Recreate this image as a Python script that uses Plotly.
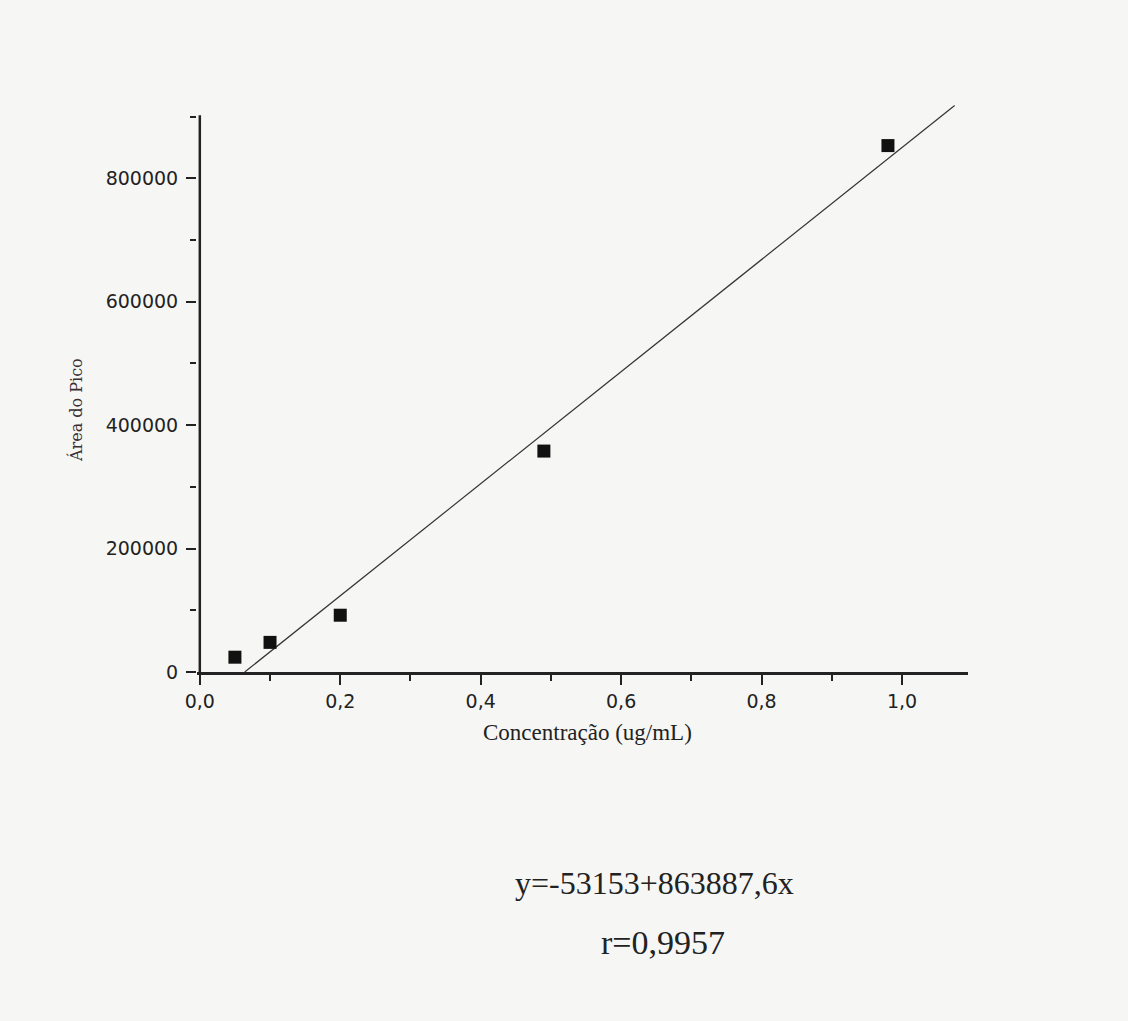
import plotly.graph_objects as go

# Data
conc = [0.05, 0.1, 0.2, 0.49, 0.98]
area = [24000, 48000, 92000, 358000, 853000]
fit_line_x = [0.064, 1.075]
fit_line_y = [0, 918000]
x_ticks = [0.0, 0.2, 0.4, 0.6, 0.8, 1.0]
x_tick_text = ["0,0", "0,2", "0,4", "0,6", "0,8", "1,0"]
y_ticks = [0, 200000, 400000, 600000, 800000]
y_tick_text = ["0", "200000", "400000", "600000", "800000"]
y_axis_top = 902000
y_view_top = 922000
x_view_left = -0.004
x_view_right = 1.094

BG = "#f6f6f4"
INK = "#222222"
SERIF = "Liberation Serif, Times New Roman, serif"

fig = go.Figure()
fig.add_trace(go.Scatter(x=fit_line_x, y=fit_line_y, mode="lines",
                         line=dict(color="#333333", width=1.2), showlegend=False,
                         cliponaxis=False))
fig.add_trace(go.Scatter(x=conc, y=area, mode="markers",
                         marker=dict(symbol="square", size=13, color="#111111"),
                         showlegend=False, cliponaxis=False))

# geometry: x=0 at 192 px, 702 px per unit; y=0 at 664 px, 557 px for 902000
px_per_x = 768 / 1.094
left_margin = 192 + x_view_left * px_per_x
plot_h = 557 * y_view_top / y_axis_top
top_margin = 664 - plot_h

fig.update_layout(
    width=1112, height=1005,
    paper_bgcolor=BG, plot_bgcolor=BG,
    margin=dict(l=left_margin, r=152, t=top_margin, b=341),
    font=dict(family="DejaVu Sans, Arial", color=INK),
    xaxis=dict(range=[x_view_left, x_view_right], tickvals=x_ticks, ticktext=x_tick_text,
               showgrid=False, zeroline=False, showline=True, linecolor=INK,
               linewidth=2.5, ticks="outside", ticklen=10, tickwidth=2,
               tickcolor=INK, tickfont=dict(size=19),
               minor=dict(dtick=0.1, ticks="outside", ticklen=6, tickcolor=INK, tickwidth=2)),
    yaxis=dict(range=[0, y_view_top], tickvals=y_ticks, ticktext=y_tick_text,
               showgrid=False, zeroline=False, showline=False,
               ticks="outside", ticklen=10, tickwidth=2, ticklabelstandoff=4,
               tickcolor=INK, tickfont=dict(size=19),
               minor=dict(dtick=100000, ticks="outside", ticklen=6, tickcolor=INK, tickwidth=2)),
    shapes=[
        dict(type="line", xref="x", yref="y", x0=0, x1=0, y0=0, y1=y_axis_top,
             line=dict(color=INK, width=2.5)),
    ],
    annotations=[
        dict(text="Área do Pico", xref="paper", yref="paper", x=-0.156, y=0.46,
             textangle=-90, showarrow=False, xanchor="center", yanchor="middle",
             font=dict(family="DejaVu Serif, serif", size=16, color="#3a3034")),
        dict(text="Concentração (ug/mL)", xref="paper", yref="paper", x=0.5065, y=-0.107,
             showarrow=False, xanchor="center", yanchor="middle",
             font=dict(family=SERIF, size=23, color=INK)),
        dict(text="y=-53153+863887,6x", xref="paper", yref="paper", x=0.594, y=-0.37,
             showarrow=False, xanchor="center", yanchor="middle",
             font=dict(family=SERIF, size=32, color=INK)),
        dict(text="r=0,9957", xref="paper", yref="paper", x=0.605, y=-0.475,
             showarrow=False, xanchor="center", yanchor="middle",
             font=dict(family=SERIF, size=34, color=INK)),
    ],
)

fig.write_html("out.html", post_script="document.body.style.background='%s';" % BG)
